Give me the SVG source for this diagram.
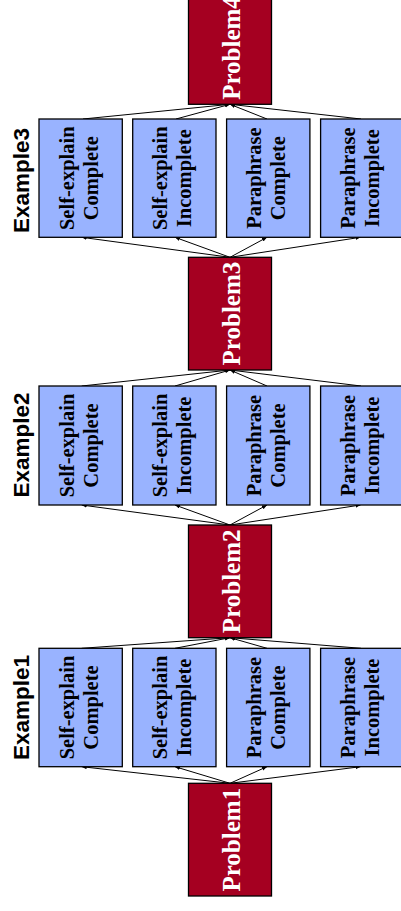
<svg xmlns="http://www.w3.org/2000/svg" width="401" height="911" viewBox="0 0 401 911">
<defs>
<style>
.prob rect{fill:#a50021;stroke:#000;stroke-width:1.3}
.prob text{font-family:"Liberation Serif","Times New Roman",serif;font-weight:bold;font-size:25px;fill:#fff;text-anchor:middle}
.ex rect{fill:#99b3ff;stroke:#000;stroke-width:1.3}
.ex text{font-family:"Liberation Serif","Times New Roman",serif;font-weight:bold;font-size:20.5px;fill:#000;text-anchor:middle}
.lbl{font-family:"Liberation Sans",Arial,sans-serif;font-weight:bold;font-size:22.5px;fill:#000;text-anchor:middle}
#connectors line{stroke:#000;stroke-width:1;marker-end:url(#ah)}
</style>
<marker id="ah" markerUnits="userSpaceOnUse" markerWidth="6" markerHeight="5" refX="5" refY="2" orient="auto">
<path d="M0,0 L5,2 L0,4 z" fill="#000"/>
</marker>
</defs>
<rect width="401" height="911" fill="#fff"/>

<g id="connectors">
<!-- Problem1 -> Example1 -->
<line x1="230" y1="783.3" x2="81.7" y2="766.7"/>
<line x1="230" y1="783.3" x2="175" y2="766.7"/>
<line x1="230" y1="783.3" x2="267" y2="766.7"/>
<line x1="230" y1="783.3" x2="360.5" y2="766.7"/>
<!-- Example1 -> Problem2 -->
<line x1="81.7" y1="648.3" x2="230" y2="637.7"/>
<line x1="175" y1="648.3" x2="230" y2="637.7"/>
<line x1="267" y1="648.3" x2="230" y2="637.7"/>
<line x1="361" y1="648.3" x2="230" y2="637.7"/>
<!-- Problem2 -> Example2 -->
<line x1="230" y1="525" x2="81.7" y2="505"/>
<line x1="230" y1="525" x2="175" y2="505"/>
<line x1="230" y1="525" x2="267" y2="505"/>
<line x1="230" y1="525" x2="360.5" y2="505"/>
<!-- Example2 -> Problem3 -->
<line x1="81.7" y1="386" x2="230" y2="370"/>
<line x1="175" y1="386" x2="230" y2="370"/>
<line x1="267" y1="386" x2="230" y2="370"/>
<line x1="361" y1="386" x2="230" y2="370"/>
<!-- Problem3 -> Example3 -->
<line x1="230" y1="257.3" x2="81.7" y2="237.3"/>
<line x1="230" y1="257.3" x2="175" y2="237.3"/>
<line x1="230" y1="257.3" x2="267" y2="237.3"/>
<line x1="230" y1="257.3" x2="360.5" y2="237.3"/>
<!-- Example3 -> Problem4 -->
<line x1="83" y1="119" x2="230" y2="104.3"/>
<line x1="176" y1="119" x2="230" y2="104.3"/>
<line x1="267" y1="119" x2="230" y2="104.3"/>
<line x1="361" y1="119" x2="230" y2="104.3"/>
</g>

<g id="problem4" class="prob"><rect x="188.5" y="-8.4" width="83" height="112.7"/><text transform="translate(188.5,48) rotate(-90)" x="0" y="51.5">Problem4</text></g>
<g id="problem3" class="prob"><rect x="188.5" y="257.3" width="83" height="112.7"/><text transform="translate(188.5,313.6) rotate(-90)" x="0" y="51.5">Problem3</text></g>
<g id="problem2" class="prob"><rect x="188.5" y="525" width="83" height="112.7"/><text transform="translate(188.5,581.3) rotate(-90)" x="0" y="51.5">Problem2</text></g>
<g id="problem1" class="prob"><rect x="188.5" y="783.3" width="83" height="112.7"/><text transform="translate(188.5,839.7) rotate(-90)" x="0" y="51.5">Problem1</text></g>

<text id="example3" class="lbl" transform="translate(0,180.5) rotate(-90)" x="0" y="29">Example3</text>
<text id="example2" class="lbl" transform="translate(0,445) rotate(-90)" x="0" y="29">Example2</text>
<text id="example1" class="lbl" transform="translate(0,707.5) rotate(-90)" x="0" y="29">Example1</text>

<!-- Example3 row -->
<g id="e3-sec" class="ex"><rect x="39" y="119" width="83.3" height="118.3"/><text transform="translate(39,178.2) rotate(-90)"><tspan x="0" y="34.5">Self-explain</tspan><tspan x="0" y="58.5">Complete</tspan></text></g>
<g id="e3-sei" class="ex"><rect x="132.7" y="119" width="83.3" height="118.3"/><text transform="translate(132.7,178.2) rotate(-90)"><tspan x="0" y="34.5">Self-explain</tspan><tspan x="0" y="58.5">Incomplete</tspan></text></g>
<g id="e3-pc" class="ex"><rect x="226.6" y="119" width="83.3" height="118.3"/><text transform="translate(226.6,178.2) rotate(-90)"><tspan x="0" y="34.5">Paraphrase</tspan><tspan x="0" y="58.5">Complete</tspan></text></g>
<g id="e3-pi" class="ex"><rect x="320.6" y="119" width="83.3" height="118.3"/><text transform="translate(320.6,178.2) rotate(-90)"><tspan x="0" y="34.5">Paraphrase</tspan><tspan x="0" y="58.5">Incomplete</tspan></text></g>

<!-- Example2 row -->
<g id="e2-sec" class="ex"><rect x="39" y="386" width="83.3" height="119"/><text transform="translate(39,445.5) rotate(-90)"><tspan x="0" y="34.5">Self-explain</tspan><tspan x="0" y="58.5">Complete</tspan></text></g>
<g id="e2-sei" class="ex"><rect x="132.7" y="386" width="83.3" height="119"/><text transform="translate(132.7,445.5) rotate(-90)"><tspan x="0" y="34.5">Self-explain</tspan><tspan x="0" y="58.5">Incomplete</tspan></text></g>
<g id="e2-pc" class="ex"><rect x="226.6" y="386" width="83.3" height="119"/><text transform="translate(226.6,445.5) rotate(-90)"><tspan x="0" y="34.5">Paraphrase</tspan><tspan x="0" y="58.5">Complete</tspan></text></g>
<g id="e2-pi" class="ex"><rect x="320.6" y="386" width="83.3" height="119"/><text transform="translate(320.6,445.5) rotate(-90)"><tspan x="0" y="34.5">Paraphrase</tspan><tspan x="0" y="58.5">Incomplete</tspan></text></g>

<!-- Example1 row -->
<g id="e1-sec" class="ex"><rect x="39" y="648.3" width="83.3" height="118.4"/><text transform="translate(39,707.5) rotate(-90)"><tspan x="0" y="34.5">Self-explain</tspan><tspan x="0" y="58.5">Complete</tspan></text></g>
<g id="e1-sei" class="ex"><rect x="132.7" y="648.3" width="83.3" height="118.4"/><text transform="translate(132.7,707.5) rotate(-90)"><tspan x="0" y="34.5">Self-explain</tspan><tspan x="0" y="58.5">Incomplete</tspan></text></g>
<g id="e1-pc" class="ex"><rect x="226.6" y="648.3" width="83.3" height="118.4"/><text transform="translate(226.6,707.5) rotate(-90)"><tspan x="0" y="34.5">Paraphrase</tspan><tspan x="0" y="58.5">Complete</tspan></text></g>
<g id="e1-pi" class="ex"><rect x="320.6" y="648.3" width="83.3" height="118.4"/><text transform="translate(320.6,707.5) rotate(-90)"><tspan x="0" y="34.5">Paraphrase</tspan><tspan x="0" y="58.5">Incomplete</tspan></text></g>
</svg>
